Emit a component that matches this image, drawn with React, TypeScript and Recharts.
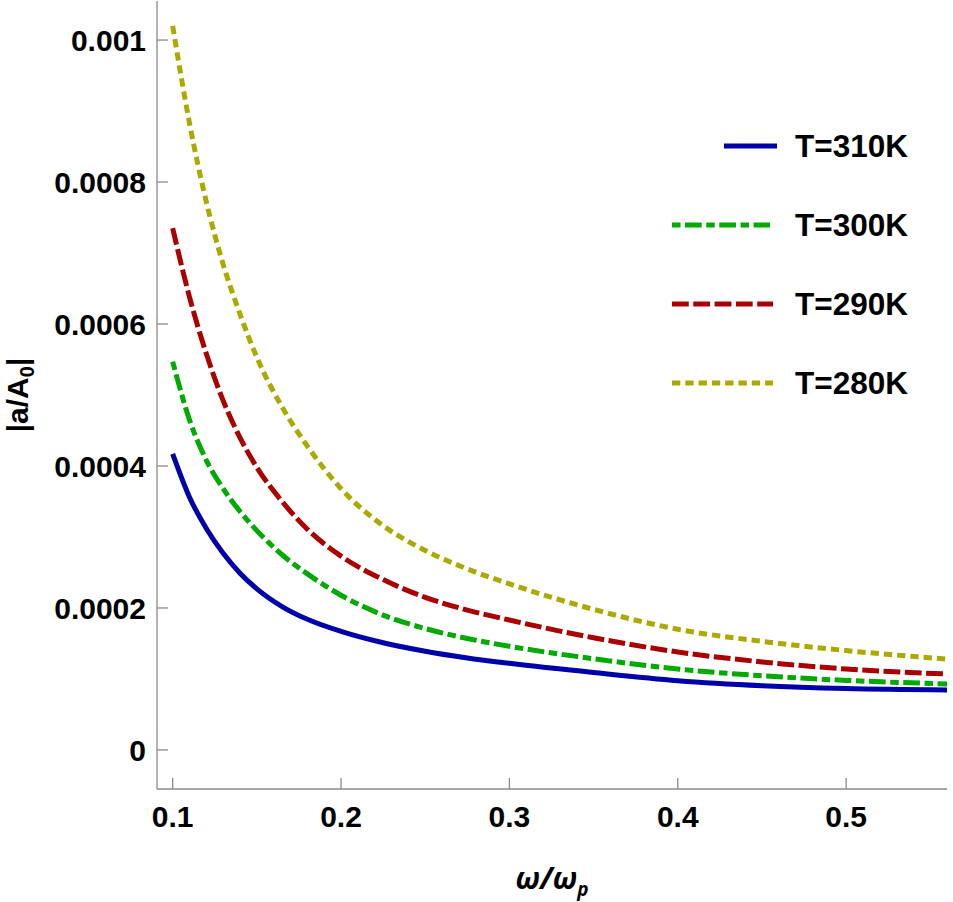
import { LineChart, Line, XAxis, YAxis, Legend } from "recharts";

// omega / omega_p samples and |a/A0|
const omega = [0.1, 0.11, 0.12, 0.13, 0.14, 0.15, 0.165, 0.18, 0.2, 0.225, 0.25, 0.275, 0.3, 0.35, 0.4, 0.45, 0.5, 0.56];
const t310 = [0.000417, 0.000356, 0.000312, 0.000277, 0.000249, 0.000227, 0.000202, 0.000184, 0.000167, 0.000151, 0.000139, 0.0001295, 0.000122, 0.000109, 0.0000975, 0.0000905, 0.0000865, 0.0000845];
const t300 = [0.000547, 0.000465, 0.000408, 0.000368, 0.000336, 0.000309, 0.000275, 0.000248, 0.000218, 0.00019, 0.000171, 0.000157, 0.000146, 0.0001285, 0.000114, 0.0001045, 0.000098, 0.000093];
const t290 = [0.000735, 0.000638, 0.000558, 0.000492, 0.00044, 0.000398, 0.00035, 0.000311, 0.000273, 0.00024, 0.000215, 0.000197, 0.000183, 0.000158, 0.000138, 0.000124, 0.000114, 0.000107];
const t280 = [0.00102, 0.000883, 0.000772, 0.000684, 0.000614, 0.000553, 0.000483, 0.000428, 0.000368, 0.000316, 0.000281, 0.000255, 0.000234, 0.000198, 0.00017, 0.000153, 0.00014, 0.000128];

const xTicks = [0.1, 0.2, 0.3, 0.4, 0.5];
const yTicks = [0, 0.0002, 0.0004, 0.0006, 0.0008, 0.001];

const series = [
  { key: "t310", name: "T=310K", color: "#0000aa", dash: undefined, values: t310 },
  { key: "t300", name: "T=300K", color: "#00aa00", dash: "8.5 4.5 16.7 4.6", values: t300 },
  { key: "t290", name: "T=290K", color: "#aa0000", dash: "16.8 4.5", values: t290 },
  { key: "t280", name: "T=280K", color: "#aaaa00", dash: "8.3 5", values: t280 },
];

const data = omega.map((w, i) => {
  const row: Record<string, number> = { w };
  series.forEach((s) => (row[s.key] = s.values[i]));
  return row;
});

const FRAME = "#8a8a8a";
const FONT = "'Liberation Sans', Arial, sans-serif";
const tickStyle = { fill: "#000", fontSize: 30, fontWeight: "bold", fontFamily: FONT };

function LegendBox() {
  const rows = [
    { x1: 74, x2: 127, y: 36 },
    { x1: 22, x2: 120, y: 115 },
    { x1: 22, x2: 123, y: 194 },
    { x1: 22, x2: 123, y: 273 },
  ];
  return (
    <svg width={290} height={300}>
      {series.map((s, i) => (
        <g key={s.key}>
          <line
            x1={rows[i].x1}
            x2={rows[i].x2}
            y1={rows[i].y}
            y2={rows[i].y}
            stroke={s.color}
            strokeWidth={5}
            strokeDasharray={s.dash}
          />
          <text
            x={145}
            y={rows[i].y + 11}
            fontSize={31.5}
            fontWeight="bold"
            fontFamily={FONT}
            fill="#000"
          >
            {s.name}
          </text>
        </g>
      ))}
    </svg>
  );
}

const xTitle = () => (
  <text
    x={552}
    y={889}
    textAnchor="middle"
    fontSize={30}
    fontWeight="bold"
    fontStyle="italic"
    fontFamily="'Open Sans', sans-serif"
    fill="#000"
  >
    ω/ω
    <tspan fontSize={19} dy={7}>p</tspan>
  </text>
);

const yTitle = () => (
  <text
    x={28}
    y={395}
    transform="rotate(-90, 28, 395)"
    textAnchor="middle"
    fontSize={30}
    fontWeight="bold"
    fontFamily={FONT}
    fill="#000"
  >
    |a/A
    <tspan fontSize={20} dy={6}>0</tspan>
    <tspan dy={-6}>|</tspan>
  </text>
);

export default function App() {
  return (
    <div style={{ position: "absolute", left: 0, top: 0, background: "#fff" }}>
      <LineChart
        width={953}
        height={902}
        data={data}
        margin={{ top: 1, right: 6, left: 0, bottom: 0 }}
      >
        <XAxis
          dataKey="w"
          type="number"
          domain={[0.0907, 0.5599]}
          allowDataOverflow
          ticks={xTicks}
          interval={0}
          height={113}
          tickSize={-11}
          tickMargin={28}
          tick={tickStyle}
          tickLine={{ stroke: FRAME, strokeWidth: 1.3 }}
          axisLine={{ stroke: FRAME, strokeWidth: 1.3 }}
          label={{ content: xTitle }}
        />
        <XAxis
          xAxisId="top"
          orientation="top"
          dataKey="w"
          type="number"
          domain={[0.0907, 0.5599]}
          height={0}
          tick={false}
          tickLine={false}
          axisLine={{ stroke: FRAME, strokeWidth: 1.3 }}
        />
        <YAxis
          type="number"
          domain={[-0.000055, 0.001055]}
          allowDataOverflow
          ticks={yTicks}
          interval={0}
          width={157}
          tickSize={-11}
          tickMargin={22}
          tick={tickStyle}
          tickLine={{ stroke: FRAME, strokeWidth: 1.3 }}
          axisLine={{ stroke: FRAME, strokeWidth: 1.3 }}
          label={{ content: yTitle }}
        />
        <YAxis
          yAxisId="right"
          orientation="right"
          type="number"
          domain={[-0.000055, 0.001055]}
          width={0}
          tick={false}
          tickLine={false}
          axisLine={{ stroke: FRAME, strokeWidth: 1.3 }}
        />
        <Legend
          layout="horizontal"
          verticalAlign="middle"
          align="center"
          wrapperStyle={{ left: 650, top: 110, width: 290, height: 300 }}
          content={() => <LegendBox />}
        />
        {series.map((s) => (
          <Line
            key={s.key}
            dataKey={s.key}
            name={s.name}
            type="monotone"
            stroke={s.color}
            strokeWidth={5}
            strokeDasharray={s.dash}
            dot={false}
            activeDot={false}
            isAnimationActive={false}
          />
        ))}
      </LineChart>
    </div>
  );
}
